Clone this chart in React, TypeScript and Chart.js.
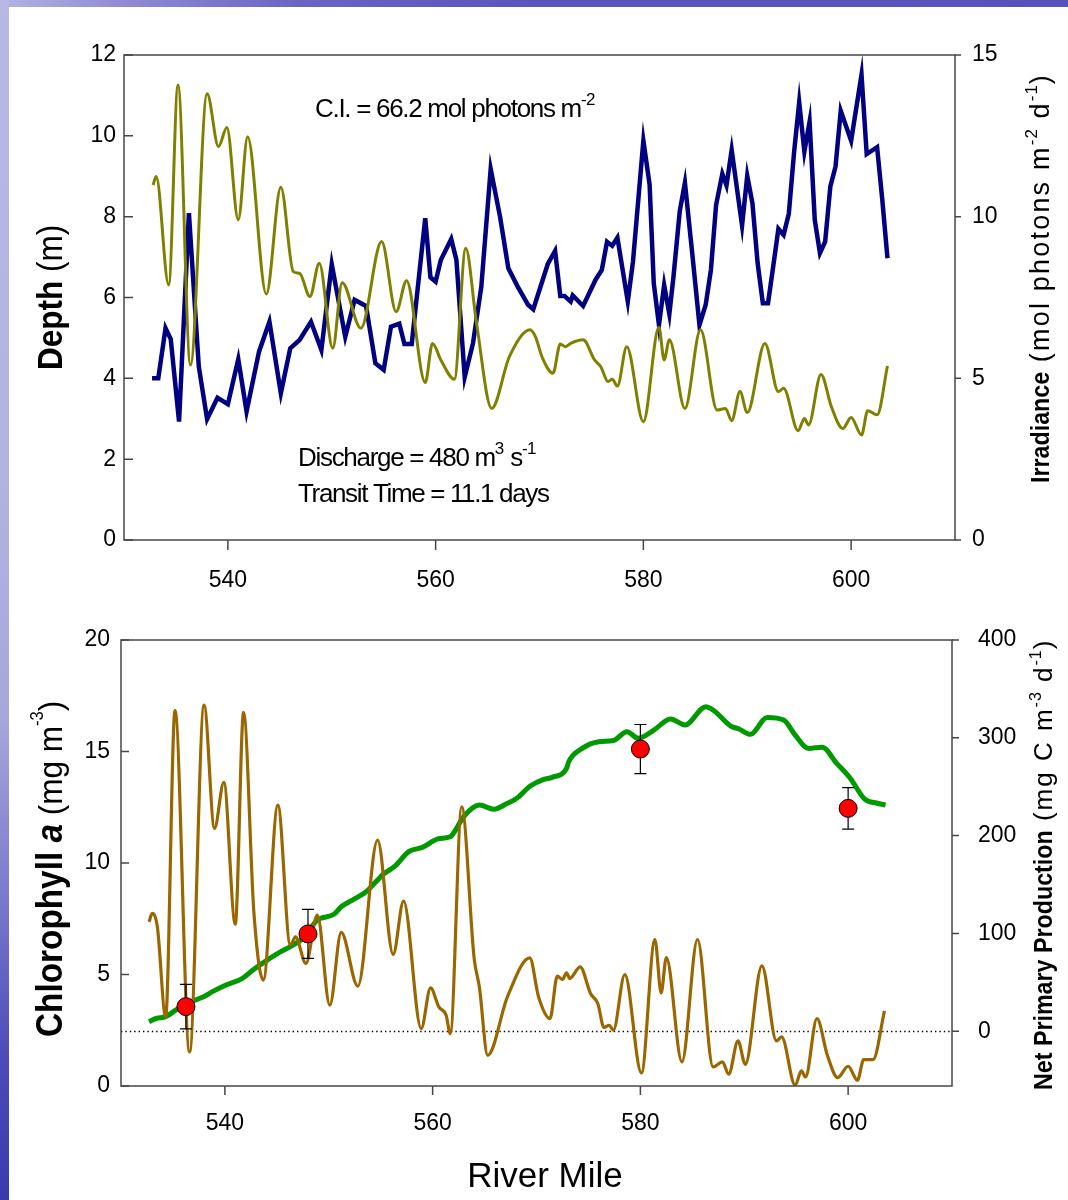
import React, { useEffect, useRef } from "react";
import { Chart, registerables } from "chart.js";
Chart.register(...registerables);

const FONT = "'Liberation Sans', Arial, Helvetica, sans-serif";
const AXIS = "#474747";

// ---------- X axis ----------
const xTickValues = [540, 560, 580, 600];

// ---------- Top panel: Depth (m) ----------
const depthTicks = [0, 2, 4, 6, 8, 10, 12];
const depthMiles = [532.7, 533.3, 534.0, 534.5, 535.3, 536.25, 537.2, 538.0, 539.0, 540.0, 541.0, 541.8, 543.0, 544.0, 545.1, 546.0, 546.9, 548.0, 549.0, 550.0, 551.3, 552.2, 553.3, 554.2, 555.0, 555.7, 556.5, 557.0, 557.7, 559.0, 559.5, 560.0, 560.5, 561.5, 562.0, 562.8, 563.6, 564.4, 565.3, 566.2, 567.0, 567.9, 568.9, 569.4, 570.8, 571.5, 572.0, 572.4, 573.0, 573.2, 574.2, 575.4, 576.0, 576.5, 577.0, 577.5, 578.5, 579.0, 580.0, 580.6, 581.0, 581.5, 582.0, 582.5, 582.9, 583.5, 584.0, 584.7, 585.4, 586.0, 586.5, 587.0, 587.6, 588.0, 588.5, 589.5, 590.0, 590.5, 591.0, 591.5, 592.0, 592.5, 593.0, 593.5, 594.0, 594.5, 595.0, 595.5, 596.0, 596.5, 597.0, 597.5, 598.0, 598.5, 599.0, 600.0, 601.0, 601.5, 602.5, 603.0, 603.5];
const depthValues = [4.0, 4.0, 5.24, 4.97, 2.93, 8.09, 4.29, 2.99, 3.52, 3.36, 4.47, 3.18, 4.66, 5.40, 3.63, 4.74, 4.95, 5.40, 4.70, 6.82, 5.03, 5.94, 5.79, 4.37, 4.21, 5.28, 5.35, 4.85, 4.85, 7.96, 6.50, 6.39, 6.93, 7.45, 6.93, 4.03, 4.87, 6.27, 9.18, 8.00, 6.72, 6.27, 5.82, 5.71, 6.83, 7.15, 6.04, 6.04, 5.90, 6.05, 5.79, 6.44, 6.68, 7.38, 7.28, 7.48, 5.90, 6.89, 9.88, 8.79, 6.35, 5.32, 6.31, 5.59, 6.52, 8.13, 8.84, 7.10, 5.32, 5.82, 6.68, 8.29, 9.06, 8.77, 9.65, 7.78, 9.01, 8.33, 6.85, 5.86, 5.86, 6.77, 7.70, 7.55, 8.07, 9.57, 10.83, 9.61, 10.35, 7.92, 7.10, 7.38, 8.75, 9.24, 10.62, 9.88, 11.51, 9.55, 9.72, 8.42, 6.97];

// ---------- Top panel: Irradiance (mol photons m-2 d-1) ----------
const irrTicks = [0, 5, 10, 15];
const irrMiles = [532.8, 533.1, 534.3, 535.2, 536.4, 538.0, 539.1, 539.9, 541.0, 541.9, 543.7, 545.1, 546.3, 546.9, 547.9, 548.8, 550.1, 551.0, 552.8, 554.8, 556.2, 557.2, 559.0, 559.7, 560.5, 561.8, 562.9, 563.9, 565.4, 567.1, 569.1, 569.6, 570.3, 571.3, 572.0, 572.5, 573.0, 574.2, 575.3, 575.9, 576.6, 577.0, 577.5, 578.4, 580.0, 581.5, 582.0, 582.5, 584.0, 585.5, 587.1, 587.9, 588.5, 589.3, 590.0, 591.7, 593.0, 593.5, 594.9, 595.5, 595.9, 597.1, 598.1, 599.2, 600.0, 601.0, 601.6, 602.5, 603.5];
const irrValues = [10.98, 11.24, 7.89, 14.07, 5.41, 13.8, 12.17, 12.76, 9.90, 12.47, 7.61, 10.91, 8.30, 8.25, 7.53, 8.56, 5.93, 7.96, 6.55, 9.23, 7.06, 8.02, 4.87, 6.08, 5.57, 4.97, 9.02, 6.80, 4.07, 5.67, 6.50, 6.29, 5.62, 5.16, 6.06, 5.98, 6.08, 6.19, 5.57, 5.36, 4.90, 4.97, 4.76, 5.98, 3.66, 6.58, 5.57, 6.19, 4.07, 6.50, 4.02, 4.07, 3.69, 4.59, 3.94, 6.08, 4.59, 4.69, 3.38, 3.76, 3.56, 5.12, 4.12, 3.45, 3.79, 3.25, 4.00, 3.87, 5.38];

// ---------- Bottom panel: Chlorophyll a (mg m-3) ----------
const chlTicks = [0, 5, 10, 15, 20];
const chlMiles = [532.7, 533.4, 534.3, 535.3, 536.4, 538.0, 538.8, 540.1, 541.7, 542.7, 543.6, 545.1, 546.3, 547.5, 548.9, 550.5, 551.2, 552.4, 553.6, 554.4, 555.3, 556.4, 557.7, 559.0, 560.5, 561.7, 562.0, 563.0, 564.5, 565.9, 567.2, 568.1, 569.4, 570.7, 571.5, 572.9, 573.1, 574.4, 576.0, 577.4, 578.7, 579.8, 581.3, 582.9, 584.3, 586.3, 587.0, 588.7, 589.5, 590.6, 592.2, 593.8, 594.9, 596.2, 597.5, 598.9, 600.2, 601.6, 602.8, 603.6];
const chlValues = [2.88, 3.03, 3.11, 3.41, 3.71, 4.01, 4.23, 4.53, 4.83, 5.20, 5.50, 5.95, 6.25, 6.62, 7.44, 7.70, 8.04, 8.37, 8.71, 9.09, 9.51, 9.87, 10.51, 10.70, 11.08, 11.18, 11.33, 12.08, 12.60, 12.41, 12.68, 12.90, 13.45, 13.75, 13.84, 14.25, 14.54, 15.14, 15.44, 15.49, 15.89, 15.59, 15.96, 16.46, 16.19, 17.01, 16.86, 16.14, 16.01, 15.77, 16.53, 16.41, 15.74, 15.14, 15.19, 14.47, 13.80, 12.86, 12.68, 12.60];

// ---------- Bottom panel: Net Primary Production (mg C m-3 d-1) ----------
const nppTicks = [0, 100, 200, 300, 400];
const nppMiles = [532.7, 533.0, 533.5, 534.3, 535.2, 536.6, 538.0, 539.0, 539.9, 541.0, 541.8, 542.8, 543.7, 545.1, 546.3, 546.8, 547.8, 548.9, 550.1, 551.2, 552.8, 554.7, 556.2, 557.2, 558.9, 559.8, 560.6, 561.3, 561.7, 562.8, 564.0, 564.5, 565.3, 567.2, 569.35, 570.2, 571.3, 572.0, 572.5, 572.9, 573.2, 574.2, 575.2, 575.9, 576.5, 577.0, 577.4, 578.5, 580.1, 581.4, 582.0, 582.5, 584.0, 585.5, 587.0, 587.9, 588.5, 589.4, 590.1, 591.7, 593.1, 593.6, 594.9, 595.5, 595.9, 597.0, 598.0, 599.0, 600.0, 600.9, 601.5, 602.4, 603.5];
const nppValues = [111.8, 120.4, 106.7, 14.6, 327.7, -21.2, 333.5, 207.4, 254.4, 109.5, 326.0, 120.4, 52.2, 231.2, 88.0, 96.5, 69.3, 118.7, 26.6, 101.0, 46.0, 195.4, 78.5, 133.0, 2.7, 44.3, 24.9, 16.4, -2.4, 229.5, 74.3, 45.3, -24.6, 35.1, 75.0, 35.1, 13.0, 56.3, 52.9, 59.7, 53.9, 65.8, 38.6, 28.3, 3.8, 6.1, 1.0, 58.0, -42.6, 93.8, 39.2, 75.4, -31.4, 93.8, -36.5, -31.4, -44.0, -9.9, -33.8, 66.8, -9.9, -5.8, -55.2, -40.6, -46.8, 13.0, -24.6, -47.4, -35.8, -50.1, -29.0, -29.0, 20.8];

// ---------- Bottom panel: measured chlorophyll (points with error bars) ----------
const ptMiles = [536.25, 548.0, 580.0, 600.0];
const ptValues = [3.56, 6.82, 15.11, 12.45];
const ptErrors = [1.0, 1.1, 1.1, 0.93];

type Seg = { t: string; size: number; bold?: boolean; italic?: boolean; rise?: number; sx?: number; ls?: number };

function drawRich(ctx: CanvasRenderingContext2D, segs: Seg[], x: number, y: number, rotate: boolean, center = false) {
  ctx.save();
  ctx.translate(x, y);
  if (rotate) ctx.rotate(-Math.PI / 2);
  ctx.fillStyle = "#000";
  ctx.textBaseline = "alphabetic";
  ctx.textAlign = "left";
  const font = (s: Seg) => `${s.italic ? "italic " : ""}${s.bold ? "bold " : ""}${s.size}px ${FONT}`;
  const widths = segs.map((s) => {
    ctx.font = font(s);
    (ctx as any).letterSpacing = `${s.ls ?? 0}px`;
    return ctx.measureText(s.t).width * (s.sx ?? 1);
  });
  const total = widths.reduce((a, b) => a + b, 0);
  let cx = center ? -total / 2 : 0;
  segs.forEach((s, i) => {
    ctx.font = font(s);
    (ctx as any).letterSpacing = `${s.ls ?? 0}px`;
    ctx.save();
    ctx.translate(cx, -(s.rise ?? 0));
    ctx.scale(s.sx ?? 1, 1);
    ctx.fillText(s.t, 0, 0);
    ctx.restore();
    cx += widths[i];
  });
  (ctx as any).letterSpacing = "0px";
  ctx.restore();
}

function toXY(xs: number[], ys: number[]) {
  return xs.map((x, i) => ({ x, y: ys[i] }));
}

function setTicks(values: number[]) {
  return (scale: any) => {
    scale.ticks = values.map((v) => ({ value: v }));
  };
}

const tickFont = { family: FONT, size: 23 };

function framePlugin(cfg: {
  leftIn: number;
  rightOut: number;
  xOut: number;
  dotted?: boolean;
  errorBars?: boolean;
  texts: (ctx: CanvasRenderingContext2D) => void;
}) {
  return {
    id: "frame",
    beforeDatasetsDraw(chart: any) {
      if (!cfg.dotted) return;
      const { ctx, chartArea: a } = chart;
      const y = Math.round(chart.scales.yR.getPixelForValue(0)) + 0.5;
      ctx.save();
      ctx.strokeStyle = "#000";
      ctx.lineWidth = 1.3;
      ctx.setLineDash([1.4, 3]);
      ctx.beginPath();
      ctx.moveTo(a.left, y);
      ctx.lineTo(a.right, y);
      ctx.stroke();
      ctx.restore();
    },
    beforeDatasetDraw(chart: any, args: any) {
      if (!cfg.errorBars || args.index !== 0) return;
      const { ctx } = chart;
      const xs = chart.scales.x;
      const ys = chart.scales.yL;
      ctx.save();
      ctx.strokeStyle = "#000";
      ctx.lineWidth = 1.2;
      ptMiles.forEach((m, i) => {
        const px = xs.getPixelForValue(m);
        const top = ys.getPixelForValue(ptValues[i] + ptErrors[i]);
        const bot = ys.getPixelForValue(ptValues[i] - ptErrors[i]);
        ctx.beginPath();
        ctx.moveTo(px, top);
        ctx.lineTo(px, bot);
        ctx.moveTo(px - 6, top);
        ctx.lineTo(px + 6, top);
        ctx.moveTo(px - 6, bot);
        ctx.lineTo(px + 6, bot);
        ctx.stroke();
      });
      ctx.restore();
    },
    afterDraw(chart: any) {
      const { ctx, chartArea: a } = chart;
      ctx.save();
      ctx.strokeStyle = AXIS;
      ctx.lineWidth = 1.5;
      ctx.strokeRect(a.left, a.top, a.right - a.left, a.bottom - a.top);
      ctx.beginPath();
      chart.scales.x.ticks.forEach((t: any) => {
        const px = chart.scales.x.getPixelForValue(t.value);
        ctx.moveTo(px, a.bottom);
        ctx.lineTo(px, a.bottom + cfg.xOut);
      });
      chart.scales.yL.ticks.forEach((t: any) => {
        const py = chart.scales.yL.getPixelForValue(t.value);
        ctx.moveTo(a.left, py);
        ctx.lineTo(a.left + cfg.leftIn, py);
      });
      chart.scales.yR.ticks.forEach((t: any) => {
        const py = chart.scales.yR.getPixelForValue(t.value);
        ctx.moveTo(a.right, py);
        ctx.lineTo(a.right + cfg.rightOut, py);
      });
      ctx.stroke();
      ctx.restore();
      cfg.texts(ctx);
    },
  };
}

function baseScale(extra: any) {
  return {
    type: "linear",
    grid: { display: false, drawTicks: false },
    border: { display: false },
    ...extra,
    ticks: { font: tickFont, color: "#000", autoSkip: false, maxRotation: 0, ...(extra.ticks || {}) },
  };
}

function topConfig(): any {
  return {
    type: "line",
    data: {
      datasets: [
        {
          label: "Irradiance",
          data: toXY(irrMiles, irrValues),
          yAxisID: "yR",
          borderColor: "#808000",
          borderWidth: 3,
          pointRadius: 0,
          cubicInterpolationMode: "monotone",
          fill: false,
        },
        {
          label: "Depth",
          data: toXY(depthMiles, depthValues),
          yAxisID: "yL",
          borderColor: "#000080",
          borderWidth: 4.5,
          pointRadius: 0,
          tension: 0,
          fill: false,
        },
      ],
    },
    options: {
      responsive: false,
      animation: false,
      devicePixelRatio: 1,
      events: [],
      layout: { padding: { top: 55, left: 0, right: 0, bottom: 0 } },
      plugins: { legend: { display: false }, tooltip: { enabled: false } },
      scales: {
        x: baseScale({
          position: "bottom",
          min: 530,
          max: 610,
          ticks: { padding: 27 },
          afterBuildTicks: setTicks(xTickValues),
          afterFit: (s: any) => { s.height = 60; },
        }),
        yL: baseScale({
          position: "left",
          min: 0,
          max: 12,
          ticks: { padding: 8 },
          afterBuildTicks: setTicks(depthTicks),
          afterFit: (s: any) => { s.width = 124; },
        }),
        yR: baseScale({
          position: "right",
          min: 0,
          max: 15,
          ticks: { padding: 17 },
          afterBuildTicks: setTicks(irrTicks),
          afterFit: (s: any) => { s.width = 113; },
        }),
      },
    },
    plugins: [
      framePlugin({
        leftIn: 9,
        rightOut: 6,
        xOut: 10,
        texts: (ctx) => {
          drawRich(ctx, [
            { t: "Depth", size: 35, bold: true, sx: 0.9 },
            { t: " (m)", size: 35, sx: 0.9 },
          ], 62, 370, true);
          drawRich(ctx, [
            { t: "Irradiance", size: 25, bold: true, sx: 0.93 },
            { t: " (mol photons m", size: 27, ls: 2.2 },
            { t: "-2", size: 17, rise: 12, ls: 1 },
            { t: " d", size: 27, ls: 2.2 },
            { t: "-1", size: 17, rise: 12, ls: 1 },
            { t: ")", size: 27 },
          ], 1048.5, 483, true);
          drawRich(ctx, [
            { t: "C.I. = 66.2 mol photons m", size: 26, ls: -1.3 },
            { t: "-2", size: 17, rise: 12, ls: -0.5 },
          ], 315, 117, false);
          drawRich(ctx, [
            { t: "Discharge = 480 m", size: 26, ls: -1.3 },
            { t: "3", size: 17, rise: 12 },
            { t: " s", size: 26, ls: -1.3 },
            { t: "-1", size: 17, rise: 12, ls: -0.5 },
          ], 298, 466, false);
          drawRich(ctx, [{ t: "Transit Time = 11.1 days", size: 26, ls: -1.35 }], 298, 502, false);
        },
      }),
    ],
  };
}

function bottomConfig(): any {
  return {
    type: "line",
    data: {
      datasets: [
        {
          label: "Measured chlorophyll",
          data: toXY(ptMiles, ptValues),
          yAxisID: "yL",
          showLine: false,
          pointRadius: 9,
          pointBackgroundColor: "#ff0000",
          pointBorderColor: "#000",
          pointBorderWidth: 1,
        },
        {
          label: "NPP",
          data: toXY(nppMiles, nppValues),
          yAxisID: "yR",
          borderColor: "#996600",
          borderWidth: 3.2,
          pointRadius: 0,
          cubicInterpolationMode: "monotone",
          fill: false,
        },
        {
          label: "Chlorophyll",
          data: toXY(chlMiles, chlValues),
          yAxisID: "yL",
          borderColor: "#009900",
          borderWidth: 5,
          pointRadius: 0,
          cubicInterpolationMode: "monotone",
          fill: false,
        },
      ],
    },
    options: {
      responsive: false,
      animation: false,
      devicePixelRatio: 1,
      events: [],
      layout: { padding: { top: 40, left: 0, right: 0, bottom: 0 } },
      plugins: { legend: { display: false }, tooltip: { enabled: false } },
      scales: {
        x: baseScale({
          position: "bottom",
          min: 530,
          max: 610,
          ticks: { padding: 24 },
          afterBuildTicks: setTicks(xTickValues),
          afterFit: (s: any) => { s.height = 114; },
        }),
        yL: baseScale({
          position: "left",
          min: 0,
          max: 20,
          ticks: { padding: 11 },
          afterBuildTicks: setTicks(chlTicks),
          afterFit: (s: any) => { s.width = 121; },
        }),
        yR: baseScale({
          position: "right",
          min: -56,
          max: 400,
          ticks: { padding: 26 },
          afterBuildTicks: setTicks(nppTicks),
          afterFit: (s: any) => { s.width = 116; },
        }),
      },
    },
    plugins: [
      framePlugin({
        leftIn: 8,
        rightOut: 7,
        xOut: 9,
        dotted: true,
        errorBars: true,
        texts: (ctx) => {
          drawRich(ctx, [
            { t: "Chlorophyll ", size: 36, bold: true, sx: 0.926 },
            { t: "a", size: 36, bold: true, italic: true, sx: 0.926 },
            { t: " (mg m", size: 34, sx: 0.926 },
            { t: "-3", size: 18, rise: 19, sx: 0.926 },
            { t: ")", size: 34, sx: 0.926 },
          ], 62, 437, true);
          drawRich(ctx, [
            { t: "Net Primary Production", size: 25, bold: true, sx: 0.93 },
            { t: " (mg C m", size: 26, ls: 2.0 },
            { t: "-3", size: 16, rise: 11, ls: 1 },
            { t: " d", size: 26, ls: 2.0 },
            { t: "-1", size: 16, rise: 11, ls: 1 },
            { t: ")", size: 26 },
          ], 1052, 490, true);
          drawRich(ctx, [{ t: "River Mile", size: 35 }], 545, 587, false, true);
        },
      }),
    ],
  };
}

export default function App() {
  const topRef = useRef<HTMLCanvasElement>(null);
  const botRef = useRef<HTMLCanvasElement>(null);

  useEffect(() => {
    const c1 = new Chart(topRef.current!, topConfig());
    const c2 = new Chart(botRef.current!, bottomConfig());
    return () => {
      c1.destroy();
      c2.destroy();
    };
  }, []);

  return (
    <div style={{ position: "absolute", left: 0, top: 0, width: 1068, height: 1200, background: "#fff", overflow: "hidden" }}>
      <canvas ref={topRef} width={1068} height={600} style={{ position: "absolute", left: 0, top: 0, width: 1068, height: 600 }} />
      <canvas ref={botRef} width={1068} height={600} style={{ position: "absolute", left: 0, top: 600, width: 1068, height: 600 }} />
      <div
        style={{
          position: "absolute", left: 0, top: 0, width: 1068, height: 7,
          background: "linear-gradient(to right, #b3b3e2 0%, #8f8ad2 12%, #6a64c4 28%, #5a55bb 50%, #5853ba 100%)",
        }}
      />
      <div
        style={{
          position: "absolute", left: 0, top: 0, width: 9, height: 1200,
          background: "linear-gradient(to bottom, #b8b8e6 0%, #b3b3e2 40%, #a6a6dc 60%, #7a78cc 75%, #4d4bb8 88%, #3a3aae 100%)",
        }}
      />
    </div>
  );
}
